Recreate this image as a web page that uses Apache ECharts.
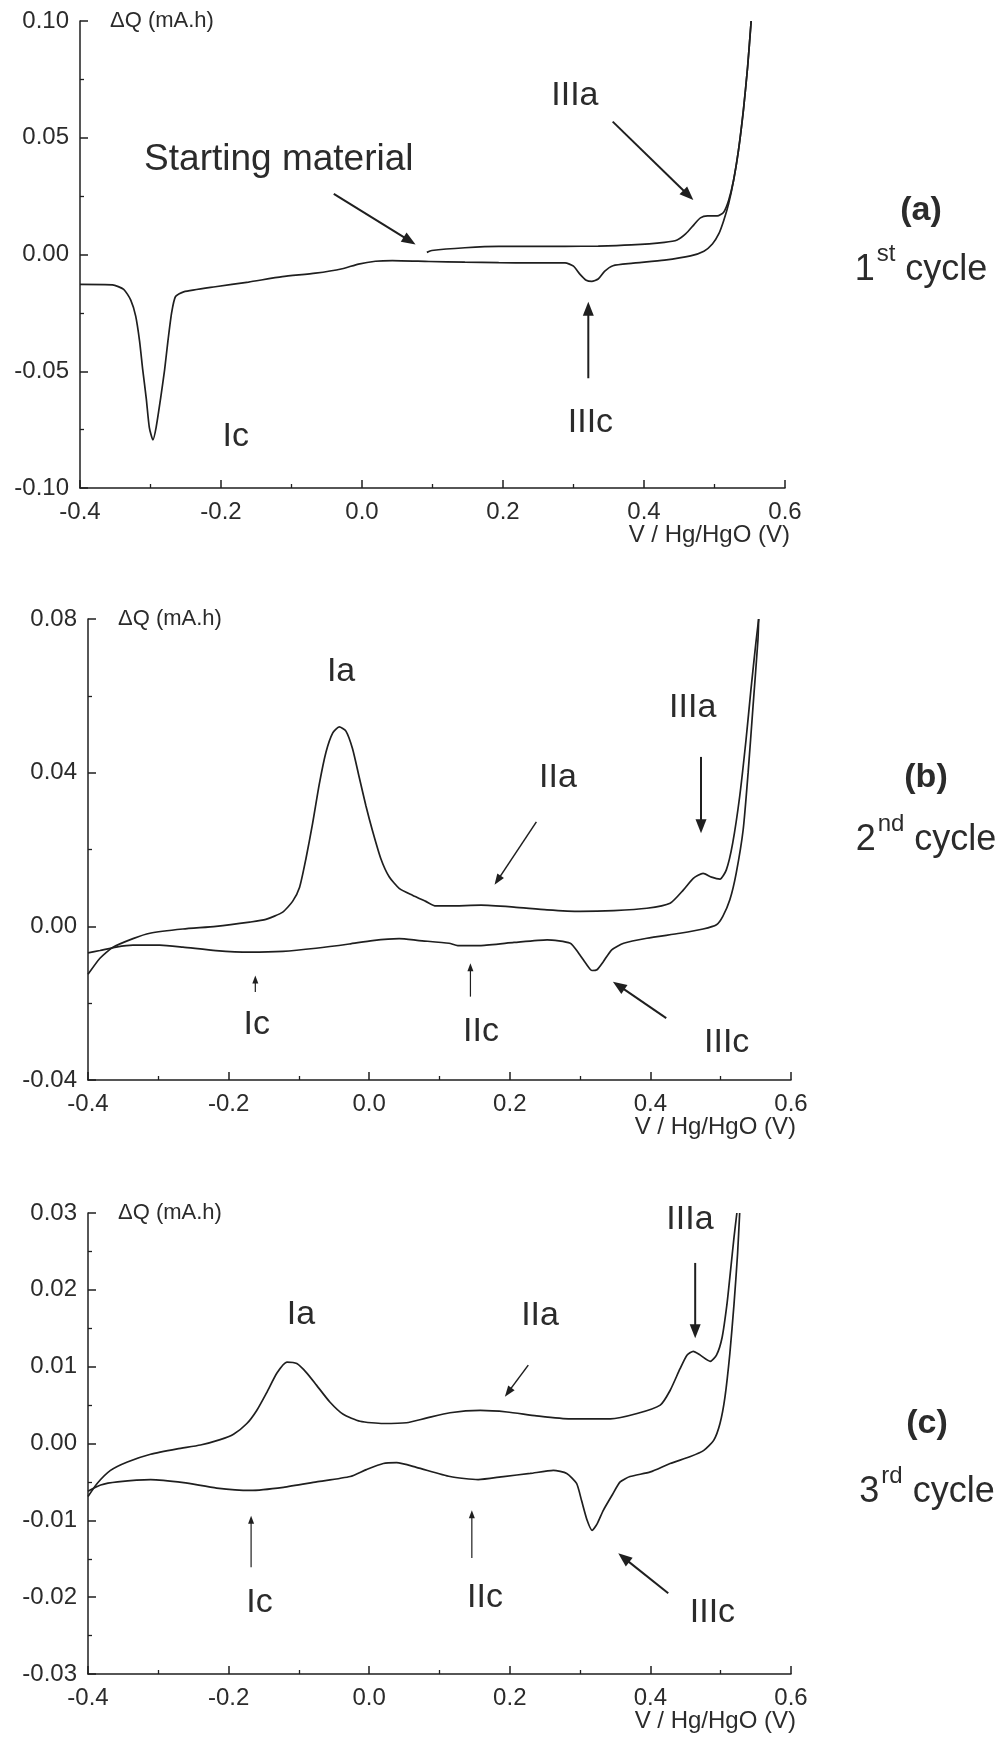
<!DOCTYPE html>
<html>
<head>
<meta charset="utf-8">
<title>Differential capacity vs potential, cycles 1-3</title>
<script src="https://cdn.jsdelivr.net/npm/echarts@6.0.0/dist/echarts.min.js"></script>
<style>
html,body{margin:0;padding:0;background:#ffffff;}
#chart{width:1005px;height:1742px;}
</style>
</head>
<body>
<div id="chart"></div>
<script>
// ---------------- DATA (V / Hg/HgO in V, ΔQ in mA.h) ----------------
const xTickValues = [-0.4, -0.2, 0.0, 0.2, 0.4, 0.6];
const yTicksA = [-0.10, -0.05, 0.00, 0.05, 0.10];
const yTicksB = [-0.04, 0.00, 0.04, 0.08];
const yTicksC = [-0.03, -0.02, -0.01, 0.00, 0.01, 0.02, 0.03];

// (a) 1st cycle
const cycle1Anodic = [
  [0.092, 0.0009], [0.099, 0.0017], [0.146, 0.0029], [0.194, 0.0035], [0.241, 0.0035],
  [0.288, 0.0035], [0.335, 0.0036], [0.382, 0.0041], [0.429, 0.0052], [0.447, 0.0062],
  [0.459, 0.0088], [0.471, 0.0128], [0.480, 0.0157], [0.490, 0.0165], [0.504, 0.0165],
  [0.513, 0.0181], [0.520, 0.0231], [0.527, 0.0317], [0.534, 0.0446], [0.541, 0.0618],
  [0.547, 0.0804], [0.552, 0.1000]
];
const cycle1Cathodic = [
  [0.552, 0.1000], [0.547, 0.0804], [0.541, 0.0618], [0.534, 0.0446], [0.527, 0.0317],
  [0.520, 0.0217], [0.513, 0.0145], [0.506, 0.0088], [0.497, 0.0045], [0.485, 0.0014],
  [0.466, -0.0006], [0.429, -0.0024], [0.382, -0.0038], [0.356, -0.0048], [0.344, -0.0072],
  [0.335, -0.0105], [0.326, -0.0115], [0.318, -0.0110], [0.309, -0.0084], [0.300, -0.0050],
  [0.288, -0.0036], [0.241, -0.0036], [0.194, -0.0035], [0.146, -0.0033], [0.095, -0.0030],
  [0.043, -0.0026], [0.019, -0.0029], [-0.005, -0.0041], [-0.028, -0.0061], [-0.066, -0.0080],
  [-0.113, -0.0095], [-0.161, -0.0118], [-0.208, -0.0138], [-0.253, -0.0160], [-0.2645, -0.0180],
  [-0.270, -0.0249], [-0.2753, -0.0371], [-0.280, -0.0494], [-0.2857, -0.0617], [-0.292, -0.0740],
  [-0.2966, -0.0794], [-0.3017, -0.0740], [-0.306, -0.0617], [-0.311, -0.0494], [-0.3155, -0.0371],
  [-0.321, -0.0264], [-0.328, -0.0195], [-0.338, -0.0149], [-0.354, -0.0130], [-0.400, -0.0128]
];

// (b) 2nd cycle
const cycle2Anodic = [
  [-0.400, -0.0125], [-0.383, -0.0083], [-0.365, -0.0055], [-0.336, -0.0032], [-0.312, -0.0018],
  [-0.265, -0.0007], [-0.218, 0.0000], [-0.170, 0.0011], [-0.147, 0.0018], [-0.123, 0.0037],
  [-0.109, 0.0065], [-0.099, 0.0102], [-0.090, 0.0176], [-0.0805, 0.0268], [-0.071, 0.0370],
  [-0.0615, 0.0453], [-0.052, 0.0503], [-0.0426, 0.0519], [-0.0331, 0.0508], [-0.0237, 0.0462],
  [-0.0142, 0.0388], [-0.0047, 0.0314], [0.0047, 0.0249], [0.0166, 0.0176], [0.0284, 0.0129],
  [0.0426, 0.0099], [0.0615, 0.0081], [0.0805, 0.0065], [0.0947, 0.0053], [0.1136, 0.0053],
  [0.159, 0.0055], [0.206, 0.0050], [0.253, 0.0043], [0.300, 0.0039], [0.348, 0.0041],
  [0.395, 0.0047], [0.428, 0.0060], [0.447, 0.0095], [0.461, 0.0125], [0.475, 0.0138],
  [0.487, 0.0128], [0.499, 0.0123], [0.508, 0.0147], [0.517, 0.0216], [0.527, 0.0338],
  [0.536, 0.0485], [0.543, 0.0616], [0.550, 0.0737], [0.554, 0.0800]
];
const cycle2Cathodic = [
  [0.554, 0.0800], [0.553, 0.0746], [0.546, 0.0573], [0.539, 0.0400], [0.532, 0.0252],
  [0.522, 0.0138], [0.513, 0.0069], [0.503, 0.0026], [0.494, 0.0004], [0.475, -0.0007],
  [0.442, -0.0018], [0.395, -0.0031], [0.362, -0.0044], [0.345, -0.0061], [0.333, -0.0092],
  [0.324, -0.0113], [0.317, -0.0115], [0.308, -0.0096], [0.298, -0.0070], [0.286, -0.0044],
  [0.253, -0.0035], [0.206, -0.0042], [0.159, -0.0050], [0.126, -0.0050], [0.1136, -0.0044],
  [0.071, -0.0037], [0.0426, -0.0032], [0.0047, -0.0037], [-0.0284, -0.0046], [-0.0757, -0.0057],
  [-0.123, -0.0065], [-0.170, -0.0067], [-0.218, -0.0063], [-0.265, -0.0054], [-0.298, -0.0049],
  [-0.336, -0.0049], [-0.360, -0.0054], [-0.383, -0.0063], [-0.400, -0.0069]
];

// (c) 3rd cycle
const cycle3Anodic = [
  [-0.400, -0.0069], [-0.387, -0.0052], [-0.368, -0.0035], [-0.344, -0.0024], [-0.311, -0.0014],
  [-0.273, -0.0007], [-0.240, -0.0002], [-0.212, 0.0005], [-0.193, 0.0012], [-0.174, 0.0026],
  [-0.160, 0.0043], [-0.146, 0.0066], [-0.131, 0.0092], [-0.117, 0.0106], [-0.103, 0.0104],
  [-0.089, 0.0092], [-0.075, 0.0076], [-0.056, 0.0054], [-0.037, 0.0038], [-0.013, 0.0029],
  [0.020, 0.0026], [0.053, 0.0027], [0.081, 0.0033], [0.115, 0.0040], [0.158, 0.0043],
  [0.196, 0.0041], [0.238, 0.0036], [0.286, 0.0032], [0.343, 0.0032], [0.381, 0.0039],
  [0.414, 0.0050], [0.428, 0.0069], [0.442, 0.0097], [0.452, 0.0115], [0.461, 0.0120],
  [0.471, 0.0115], [0.485, 0.0107], [0.494, 0.0115], [0.502, 0.0138], [0.509, 0.0182],
  [0.514, 0.0225], [0.519, 0.0269], [0.523, 0.0300]
];
const cycle3Cathodic = [
  [0.527, 0.0300], [0.524, 0.0247], [0.519, 0.0182], [0.513, 0.0117], [0.506, 0.0060],
  [0.499, 0.0026], [0.490, 0.0004], [0.476, -0.0009], [0.457, -0.0017], [0.428, -0.0026],
  [0.400, -0.0037], [0.371, -0.0043], [0.357, -0.0050], [0.345, -0.0068], [0.333, -0.0087],
  [0.324, -0.0105], [0.317, -0.0113], [0.310, -0.0100], [0.302, -0.0074], [0.295, -0.0052],
  [0.281, -0.0039], [0.262, -0.0035], [0.229, -0.0039], [0.191, -0.0043], [0.155, -0.0047],
  [0.115, -0.0043], [0.067, -0.0031], [0.039, -0.0025], [0.020, -0.0026], [-0.004, -0.0034],
  [-0.027, -0.0043], [-0.075, -0.0050], [-0.122, -0.0057], [-0.169, -0.0061], [-0.217, -0.0058],
  [-0.264, -0.0051], [-0.311, -0.0047], [-0.358, -0.0050], [-0.382, -0.0054], [-0.400, -0.0062]
];

// Peak annotations (text, anchor in data coordinates)
const notesA = ['Starting material', 'IIIa', 'IIIc', 'Ic'];
const notePosA = [[-0.118, 0.0405], [0.302, 0.068], [0.324, -0.072], [-0.179, -0.078]];
const notesB = ['Ia', 'IIa', 'IIIa', 'Ic', 'IIc', 'IIIc'];
const notePosB = [[-0.040, 0.0664], [0.2686, 0.0387], [0.4602, 0.057], [-0.160, -0.0257], [0.159, -0.0273], [0.5085, -0.0302]];
const notesC = ['Ia', 'IIa', 'IIIa', 'Ic', 'IIc', 'IIIc'];
const notePosC = [[-0.097, 0.0168], [0.243, 0.0167], [0.4563, 0.0292], [-0.156, -0.0207], [0.1647, -0.0201], [0.4882, -0.022]];

// Arrows: [tail, tip] in data coordinates, plus a weight class
const arrowsA = [[[-0.040, 0.026], [0.076, 0.0043]], [[0.3556, 0.0569], [0.470, 0.0233]], [[0.321, -0.053], [0.321, -0.0202]]];
const arrowKindA = ['big', 'big', 'big'];
const arrowsB = [[[0.2378, 0.0272], [0.1783, 0.0108]], [[0.472, 0.0441], [0.472, 0.0242]], [[-0.162, -0.0171], [-0.162, -0.0128]], [[0.144, -0.0183], [0.144, -0.0096]], [[0.4225, -0.0239], [0.3466, -0.0144]]];
const arrowKindB = ['mid', 'big', 'small', 'small', 'big'];
const arrowsC = [[[0.2263, 0.0102], [0.193, 0.0061]], [[0.4637, 0.0235], [0.4637, 0.0137]], [[-0.168, -0.0161], [-0.168, -0.0094]], [[0.146, -0.0149], [0.146, -0.0087]], [[0.4254, -0.0195], [0.3543, -0.0143]]];
const arrowKindC = ['mid', 'big', 'small', 'small', 'big'];

const panelTags = ['(a)', '(b)', '(c)'];
const cycleNumbers = ['1', '2', '3'];
const cycleSuffixes = ['st', 'nd', 'rd'];
const yAxisTitle = 'ΔQ (mA.h)';
const xAxisTitle = 'V / Hg/HgO (V)';

// ---------------- LAYOUT & STYLE ----------------
const INK = '#1f1f1f';
const TEXT = '#2b2b2b';
const TICK_FONT = 'Liberation Sans, Arial, sans-serif';
const NOTE_FONT = 'Liberation Sans, Arial, sans-serif';
const grids = [
  { left: 80, top: 21, width: 705, height: 467 },
  { left: 88, top: 619, width: 703, height: 461 },
  { left: 88, top: 1213, width: 703, height: 461 }
];
const tagLayout = [
  { cx: 921, tagY: 211, lineY: 270 },
  { cx: 926, tagY: 778, lineY: 840 },
  { cx: 927, tagY: 1424, lineY: 1492 }
];
const arrowStyle = {
  big: { w: 2.0, len: 14, half: 5.5 },
  mid: { w: 1.5, len: 11, half: 4 },
  small: { w: 1.2, len: 8, half: 3 }
};

function fmt(v, d) { const r = Math.abs(v) < 1e-9 ? 0 : v; return r.toFixed(d); }

function makeX(i) {
  return {
    type: 'value', gridIndex: i,
    min: xTickValues[0], max: xTickValues[xTickValues.length - 1], interval: 0.2,
    axisLine: { show: true, onZero: false, lineStyle: { color: INK, width: 1.5 } },
    axisTick: { show: true, inside: true, length: 8, lineStyle: { color: INK, width: 1.5 } },
    minorTick: { show: true, splitNumber: 2, length: 4, lineStyle: { color: INK, width: 1.3 } },
    splitLine: { show: false }, minorSplitLine: { show: false },
    axisLabel: { color: TEXT, fontSize: 24, fontFamily: TICK_FONT, margin: 12, formatter: v => fmt(v, 1) }
  };
}
function makeY(i, ticks, interval) {
  return {
    type: 'value', gridIndex: i,
    min: ticks[0], max: ticks[ticks.length - 1], interval: interval,
    axisLine: { show: true, onZero: false, lineStyle: { color: INK, width: 1.5 } },
    axisTick: { show: true, inside: true, length: 8, lineStyle: { color: INK, width: 1.5 } },
    minorTick: { show: true, splitNumber: 2, length: 4, lineStyle: { color: INK, width: 1.3 } },
    splitLine: { show: false }, minorSplitLine: { show: false },
    axisLabel: { color: TEXT, fontSize: 24, fontFamily: TICK_FONT, margin: 11, formatter: v => fmt(v, 2) }
  };
}
function curve(name, data, i) {
  return {
    name: name, type: 'line', xAxisIndex: i, yAxisIndex: i, data: data,
    showSymbol: false, symbol: 'none', smooth: 0.2, clip: false, silent: true,
    lineStyle: { color: INK, width: 1.7 }, animation: false
  };
}

const chart = echarts.init(document.getElementById('chart'), null, { renderer: 'canvas', width: 1005, height: 1742 });
chart.setOption({
  backgroundColor: '#ffffff',
  animation: false,
  grid: grids.map(g => Object.assign({ containLabel: false, outerBoundsMode: 'none' }, g)),
  xAxis: [makeX(0), makeX(1), makeX(2)],
  yAxis: [makeY(0, yTicksA, 0.05), makeY(1, yTicksB, 0.04), makeY(2, yTicksC, 0.01)],
  series: [
    curve('cycle 1 anodic', cycle1Anodic, 0), curve('cycle 1 cathodic', cycle1Cathodic, 0),
    curve('cycle 2 anodic', cycle2Anodic, 1), curve('cycle 2 cathodic', cycle2Cathodic, 1),
    curve('cycle 3 anodic', cycle3Anodic, 2), curve('cycle 3 cathodic', cycle3Cathodic, 2)
  ]
});

// ---------------- ANNOTATIONS ----------------
const graphics = [];
function px(i, v) { return chart.convertToPixel({ gridIndex: i }, v); }
function addNote(i, text, pos) {
  const p = px(i, pos);
  graphics.push({
    type: 'text', silent: true, z: 10,
    style: { text: text, x: p[0], y: p[1], fill: TEXT, fontSize: text.length > 5 ? 37 : 34, fontFamily: NOTE_FONT, align: 'center', verticalAlign: 'middle' }
  });
}
function addArrow(i, seg, kind) {
  const s = arrowStyle[kind];
  const a = px(i, seg[0]), b = px(i, seg[1]);
  const dx = b[0] - a[0], dy = b[1] - a[1];
  const L = Math.sqrt(dx * dx + dy * dy);
  const ux = dx / L, uy = dy / L;
  const bx = b[0] - ux * s.len, by = b[1] - uy * s.len;
  graphics.push({
    type: 'line', silent: true, z: 10,
    shape: { x1: a[0], y1: a[1], x2: bx + ux * 2, y2: by + uy * 2 },
    style: { stroke: INK, lineWidth: s.w }
  });
  graphics.push({
    type: 'polygon', silent: true, z: 10,
    shape: { points: [[b[0], b[1]], [bx - uy * s.half, by + ux * s.half], [bx + uy * s.half, by - ux * s.half]] },
    style: { fill: INK }
  });
}
[[notesA, notePosA], [notesB, notePosB], [notesC, notePosC]].forEach((pair, i) => {
  pair[0].forEach((t, k) => addNote(i, t, pair[1][k]));
});
[[arrowsA, arrowKindA], [arrowsB, arrowKindB], [arrowsC, arrowKindC]].forEach((pair, i) => {
  pair[0].forEach((seg, k) => addArrow(i, seg, pair[1][k]));
});

// axis titles anchored to each panel's axes
const yMins = [yTicksA[0], yTicksB[0], yTicksC[0]];
const yMaxs = [yTicksA[yTicksA.length - 1], yTicksB[yTicksB.length - 1], yTicksC[yTicksC.length - 1]];
for (let i = 0; i < 3; i++) {
  const top = px(i, [xTickValues[0], yMaxs[i]]);
  const end = px(i, [xTickValues[xTickValues.length - 1], yMins[i]]);
  graphics.push({
    type: 'text', silent: true,
    style: { text: yAxisTitle, x: top[0] + 30, y: top[1], fill: TEXT, fontSize: 22, fontFamily: TICK_FONT, align: 'left', verticalAlign: 'middle' }
  });
  graphics.push({
    type: 'text', silent: true,
    style: { text: xAxisTitle, x: end[0] + 5, y: end[1] + 47, fill: TEXT, fontSize: 24, fontFamily: TICK_FONT, align: 'right', verticalAlign: 'middle' }
  });
}

// panel tags "(a) / 1st cycle" etc.
const ctx = document.createElement('canvas').getContext('2d');
function w(text, font) { ctx.font = font; return ctx.measureText(text).width; }
for (let i = 0; i < 3; i++) {
  const L = tagLayout[i];
  graphics.push({
    type: 'text', silent: true,
    style: { text: panelTags[i], x: L.cx, y: L.tagY, fill: TEXT, fontSize: 34, fontWeight: 'bold', fontFamily: NOTE_FONT, align: 'center', verticalAlign: 'middle' }
  });
  const mainFont = '36px Liberation Sans';
  const supFont = '24px Liberation Sans';
  const nW = w(cycleNumbers[i], mainFont), sW = w(cycleSuffixes[i], supFont), spW = w(' ', mainFont), cW = w('cycle', mainFont);
  const total = nW + 2 + sW + spW + cW;
  const left = L.cx - total / 2;
  graphics.push({ type: 'text', silent: true, style: { text: cycleNumbers[i], x: left, y: L.lineY, fill: TEXT, fontSize: 36, fontFamily: NOTE_FONT, align: 'left', verticalAlign: 'middle' } });
  graphics.push({ type: 'text', silent: true, style: { text: cycleSuffixes[i], x: left + nW + 2, y: L.lineY - 16, fill: TEXT, fontSize: 24, fontFamily: NOTE_FONT, align: 'left', verticalAlign: 'middle' } });
  graphics.push({ type: 'text', silent: true, style: { text: 'cycle', x: left + nW + 2 + sW + spW, y: L.lineY, fill: TEXT, fontSize: 36, fontFamily: NOTE_FONT, align: 'left', verticalAlign: 'middle' } });
}

chart.setOption({ graphic: graphics });
</script>
</body>
</html>
